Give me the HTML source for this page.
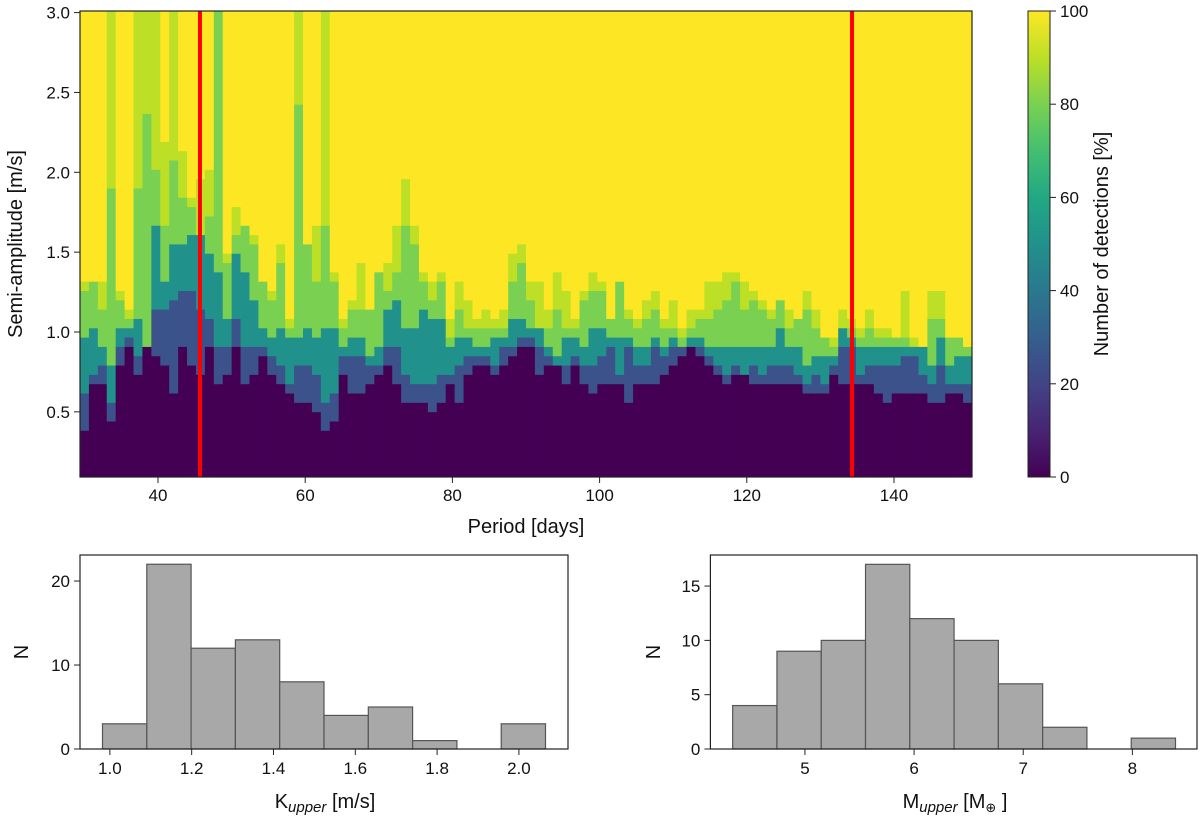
<!DOCTYPE html>
<html><head><meta charset="utf-8"><style>
body{margin:0;background:#fff;}
svg{display:block;font-family:"Liberation Sans","DejaVu Sans",sans-serif;}
</style></head>
<body>
<svg id="fig" width="1200" height="819" viewBox="0 0 1200 819" xmlns="http://www.w3.org/2000/svg">
<defs>
<linearGradient id="vir" x1="0" y1="1" x2="0" y2="0">
<stop offset="0" stop-color="#440154"/><stop offset="0.1" stop-color="#482475"/><stop offset="0.2" stop-color="#414487"/><stop offset="0.3" stop-color="#355f8d"/><stop offset="0.4" stop-color="#2a788e"/><stop offset="0.5" stop-color="#21918c"/><stop offset="0.6" stop-color="#22a884"/><stop offset="0.7" stop-color="#44bf70"/><stop offset="0.8" stop-color="#7ad151"/><stop offset="0.9" stop-color="#bddf26"/><stop offset="1" stop-color="#fde725"/>
</linearGradient>
</defs>
<g id="heat"></g>
<g id="main-axes"></g>
<rect x="1028" y="11" width="22" height="466" fill="url(#vir)" stroke="#222" stroke-width="1"/>
<g id="cbar"></g>
<text transform="translate(1108,244) rotate(-90)" text-anchor="middle" font-size="20" fill="#111">Number of detections [%]</text>
<text transform="translate(22,244) rotate(-90)" text-anchor="middle" font-size="20" fill="#111">Semi-amplitude [m/s]</text>
<text x="526" y="533" text-anchor="middle" font-size="20" fill="#111">Period [days]</text>
<g id="h1"></g>
<g id="h2"></g>
<text x="325" y="808" text-anchor="middle" font-size="20" fill="#111">K<tspan font-style="italic" font-size="15" dy="4">upper</tspan><tspan dy="-4"> [m/s]</tspan></text>
<text transform="translate(28,652) rotate(-90)" text-anchor="middle" font-size="20" fill="#111">N</text>
<text x="955" y="808" text-anchor="middle" font-size="20" fill="#111">M<tspan font-style="italic" font-size="15" dy="4">upper</tspan><tspan dy="-4"> [M</tspan><tspan font-size="13" dy="4">⊕</tspan><tspan dy="-4"> ]</tspan></text>
<text transform="translate(660,652) rotate(-90)" text-anchor="middle" font-size="20" fill="#111">N</text>
</svg>
<script>
// heatmap data: per period column, semi-amplitude thresholds (m/s) where detection level changes
const kYellow=[1.31,1.34,1.31,3.1,1.28,1.13,3.1,3.1,3.1,2.19,3.1,2.13,1.83,1.94,2.04,3.1,1.49,1.78,1.69,1.63,1.31,1.25,1.57,1.10,3.1,1.57,1.65,3.1,1.39,1.10,1.19,1.42,1.13,1.40,1.46,1.69,1.98,1.69,1.37,1.34,1.37,1.08,1.31,1.23,1.08,1.17,1.10,1.17,1.52,1.55,1.34,1.34,1.14,1.40,1.28,1.08,1.28,1.37,1.31,1.10,1.34,1.14,1.08,1.20,1.26,1.08,1.20,1.00,1.14,1.17,1.34,1.34,1.40,1.40,1.31,1.28,1.20,1.12,1.23,1.17,1.08,1.28,1.14,0.97,0.97,1.14,1.07,1.05,1.14,1.05,1.05,0.99,1.26,0.94,0.93,1.26,1.26,0.99,0.96,0.91];
const kLime=[1.26,1.34,1.13,1.89,1.19,1.10,1.89,2.38,2.01,1.66,2.10,1.86,1.80,1.63,1.72,3.1,1.42,1.60,1.65,1.57,1.29,1.23,1.42,1.05,2.44,1.57,1.34,1.69,1.31,1.05,1.16,1.16,1.13,1.40,1.28,1.40,1.66,1.57,1.31,1.23,1.31,0.99,1.17,1.05,1.02,1.05,1.05,1.05,1.34,1.46,1.22,1.05,1.02,1.14,1.02,1.02,1.22,1.28,1.28,1.08,1.31,1.08,1.02,1.10,1.17,1.02,1.05,0.99,1.05,1.08,1.10,1.17,1.20,1.34,1.12,1.23,1.12,1.08,1.22,1.05,1.08,1.12,1.05,0.94,0.88,1.02,1.02,0.97,1.02,0.96,0.96,0.99,0.94,0.91,0.88,1.08,1.08,0.96,0.94,0.91];
const kGreen=[0.99,1.05,0.92,0.78,1.01,1.05,1.07,0.92,1.69,1.31,1.54,1.57,1.63,1.63,1.49,1.40,1.11,1.49,1.36,1.19,1.03,0.97,1.05,0.99,0.97,1.01,0.95,1.00,1.05,0.92,0.95,0.95,0.86,0.88,1.14,1.22,1.01,1.01,1.14,1.09,1.10,0.91,0.99,0.97,0.93,0.92,0.97,0.99,1.10,1.10,1.02,1.02,0.90,0.84,0.94,0.94,0.88,1.05,1.05,0.99,0.97,0.97,0.88,0.88,0.97,0.91,0.96,0.91,0.99,0.99,0.91,0.91,0.89,0.93,0.89,0.88,0.88,0.93,1.05,0.89,0.88,0.78,0.84,0.84,0.84,1.02,0.97,0.88,0.93,0.88,0.88,0.88,0.88,0.91,0.88,0.80,0.94,0.78,0.84,0.84];
const kTeal=[0.59,0.76,0.82,0.57,0.92,0.98,0.84,0.90,1.13,1.17,1.19,1.24,1.24,1.13,1.07,0.92,0.92,1.07,0.92,0.92,0.92,0.86,0.78,0.69,0.80,0.80,0.72,0.55,0.59,0.86,0.86,0.84,0.80,0.80,0.89,0.89,0.72,0.70,0.68,0.68,0.76,0.76,0.80,0.87,0.87,0.87,0.78,0.91,0.91,0.97,0.95,0.88,0.87,0.78,0.80,0.84,0.79,0.78,0.84,0.89,0.76,0.89,0.78,0.80,0.91,0.84,0.88,0.88,0.91,0.93,0.84,0.82,0.73,0.80,0.76,0.78,0.76,0.78,0.82,0.80,0.76,0.65,0.73,0.68,0.80,0.89,0.89,0.76,0.80,0.78,0.82,0.82,0.84,0.84,0.76,0.65,0.78,0.68,0.70,0.65];
const kBlue=[0.40,0.67,0.70,0.43,0.82,0.90,0.74,0.88,0.86,0.79,0.59,0.92,0.82,0.76,0.90,0.67,0.76,0.88,0.69,0.73,0.84,0.74,0.67,0.59,0.57,0.55,0.52,0.40,0.43,0.76,0.64,0.61,0.67,0.73,0.80,0.68,0.56,0.56,0.56,0.50,0.53,0.65,0.58,0.76,0.82,0.79,0.74,0.82,0.84,0.88,0.89,0.74,0.82,0.77,0.65,0.79,0.70,0.64,0.70,0.70,0.70,0.58,0.70,0.70,0.68,0.76,0.81,0.84,0.88,0.87,0.79,0.76,0.68,0.73,0.73,0.70,0.68,0.65,0.68,0.65,0.68,0.61,0.62,0.59,0.76,0.68,0.68,0.65,0.65,0.61,0.56,0.61,0.61,0.61,0.61,0.56,0.56,0.59,0.59,0.56];
const periodTicks=[40,60,80,100,120,140];
const kTicks=[0.5,1.0,1.5,2.0,2.5,3.0];
const cbarTicks=[0,20,40,60,80,100];
const knownPeriods=[45.7,134.3];
// histograms
const kBinStart=0.982, kBinWidth=0.1083;
const kCounts=[3,22,12,13,8,4,5,1,0,3];
const kHistTicks=[1.0,1.2,1.4,1.6,1.8,2.0];
const kHistYTicks=[0,10,20];
const mBinStart=4.338, mBinWidth=0.4057;
const mCounts=[4,9,10,17,12,10,6,2,0,1];
const mHistTicks=[5,6,7,8];
const mHistYTicks=[0,5,10,15];

const NS='http://www.w3.org/2000/svg';
function mk(tag,attrs,parent){const e=document.createElementNS(NS,tag);for(const k in attrs)e.setAttribute(k,attrs[k]);parent.appendChild(e);return e;}
const P0=29.4,P1=150.6,K0=0.092,K1=3.01;
const L=80,R=972,T=11,B=477;
const xP=p=>L+(p-P0)/(P1-P0)*(R-L);
const yK=k=>B-(k-K0)/(K1-K0)*(B-T);
const nCols=kYellow.length, colW=(P1-P0)/nCols, nRows=50, rowH=(K1-K0)/nRows;
const heat=document.getElementById('heat');
const cols=['#440154','#3b528b','#21918c','#7ad151','#bddf26','#fde725'];
function band(i,k){
  if(k>=kYellow[i])return 5; if(k>=kLime[i])return 4; if(k>=kGreen[i])return 3;
  if(k>=kTeal[i])return 2; if(k>=kBlue[i])return 1; return 0;}
for(let i=0;i<nCols;i++){
  const x0=xP(P0+i*colW), x1=xP(P0+(i+1)*colW);
  let j=0;
  while(j<nRows){
    const b=band(i,K0+(j+0.5)*rowH); let j2=j+1;
    while(j2<nRows&&band(i,K0+(j2+0.5)*rowH)===b)j2++;
    const y1=yK(K0+j2*rowH), y0=yK(K0+j*rowH);
    const r=mk('rect',{x:x0.toFixed(2),y:y1.toFixed(2),width:(x1-x0+0.4).toFixed(2),height:(y0-y1+0.4).toFixed(2),fill:cols[b]},heat);
    
    
    j=j2;
  }
}
const ax=document.getElementById('main-axes');
knownPeriods.forEach(p=>{
  const l=mk('line',{x1:xP(p),x2:xP(p),y1:T,y2:B,stroke:'#ff0000','stroke-width':4},ax);
  
  
});
mk('rect',{x:L,y:T,width:R-L,height:B-T,fill:'none',stroke:'#222','stroke-width':1.2},ax);
periodTicks.forEach(p=>{
  mk('line',{x1:xP(p),x2:xP(p),y1:B,y2:B+6,stroke:'#222'},ax);
  const t=mk('text',{x:xP(p),y:B+24,'text-anchor':'middle','font-size':17,fill:'#111'},ax);t.textContent=p;
  
  
});
kTicks.forEach(k=>{
  mk('line',{x1:L-6,x2:L,y1:yK(k),y2:yK(k),stroke:'#222'},ax);
  const t=mk('text',{x:L-10,y:yK(k)+6,'text-anchor':'end','font-size':17,fill:'#111'},ax);t.textContent=k.toFixed(1);
  
  
});
const cb=document.getElementById('cbar');
cbarTicks.forEach(v=>{
  const y=477-v/100*466;
  mk('line',{x1:1050,x2:1056,y1:y,y2:y,stroke:'#222'},cb);
  const t=mk('text',{x:1060,y:y+6,'font-size':17,fill:'#111'},cb);t.textContent=v;
  
  
});
function hist(gid,box,xmin,xmax,ymax,start,width,counts,xt,yt,xfmt){
  const g=document.getElementById(gid);
  const X=v=>box.l+(v-xmin)/(xmax-xmin)*(box.r-box.l);
  const Y=v=>box.b-v/ymax*(box.b-box.t);
  counts.forEach((c,i)=>{
    if(c<=0)return;
    const r=mk('rect',{x:X(start+i*width),y:Y(c),width:X(start+(i+1)*width)-X(start+i*width),height:Y(0)-Y(c),fill:'#a8a8a8',stroke:'#555','stroke-width':1.2},g);
    
    
  });
  mk('rect',{x:box.l,y:box.t,width:box.r-box.l,height:box.b-box.t,fill:'none',stroke:'#222','stroke-width':1.2},g);
  xt.forEach(v=>{
    mk('line',{x1:X(v),x2:X(v),y1:box.b,y2:box.b+6,stroke:'#222'},g);
    const t=mk('text',{x:X(v),y:box.b+25,'text-anchor':'middle','font-size':17,fill:'#111'},g);t.textContent=xfmt(v);
    
    
  });
  yt.forEach(v=>{
    mk('line',{x1:box.l-6,x2:box.l,y1:Y(v),y2:Y(v),stroke:'#222'},g);
    const t=mk('text',{x:box.l-10,y:Y(v)+6,'text-anchor':'end','font-size':17,fill:'#111'},g);t.textContent=v;
    
    
  });
}
hist('h1',{l:80,r:568,t:555,b:749},0.927,2.12,23.1,kBinStart,kBinWidth,kCounts,kHistTicks,kHistYTicks,v=>v.toFixed(1));
hist('h2',{l:710.4,r:1197,t:555,b:749},4.134,8.592,17.86,mBinStart,mBinWidth,mCounts,mHistTicks,mHistYTicks,v=>v);
</script>
</body></html>
